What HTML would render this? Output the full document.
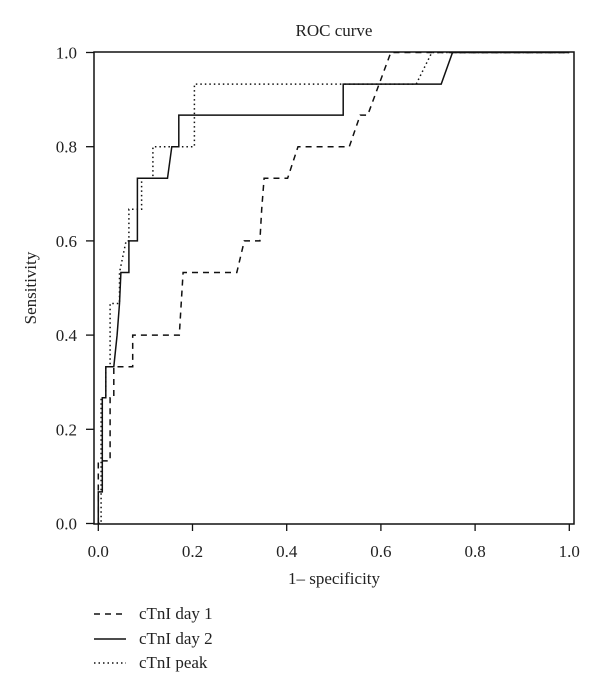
<!DOCTYPE html>
<html>
<head>
<meta charset="utf-8">
<style>
  html,body{margin:0;padding:0;background:#fff;}
  svg{display:block;}
  text{font-family:"Liberation Serif",serif;fill:#222;}
</style>
</head>
<body>
<svg id="chart" width="600" height="696" viewBox="0 0 600 696" xmlns="http://www.w3.org/2000/svg">
  <text x="334" y="36" font-size="17" text-anchor="middle">ROC curve</text>
  <rect x="94" y="52" width="480" height="472" fill="none" stroke="#111" stroke-width="1.5"/>
  <g id="xticks"></g>
  <g id="yticks"></g>
  <text x="334" y="584" font-size="17" text-anchor="middle">1– specificity</text>
  <text transform="translate(36,288) rotate(-90)" font-size="17" text-anchor="middle">Sensitivity</text>
  <g id="series"></g>
  <g id="legend"></g>
</svg>
<script>
const xTicks = [0.0, 0.2, 0.4, 0.6, 0.8, 1.0];
const yTicks = [0.0, 0.2, 0.4, 0.6, 0.8, 1.0];
const seriesNames = ["cTnI day 1", "cTnI day 2", "cTnI peak"];
const day1X = [0.0,0.0,0.025,0.025,0.033,0.033,0.073,0.073,0.172,0.176,0.18,0.294,0.31,0.343,0.347,0.352,0.402,0.424,0.533,0.556,0.572,0.621,1.0];
const day1Y = [0.0,0.133,0.133,0.267,0.267,0.333,0.333,0.4,0.4,0.467,0.533,0.533,0.6,0.6,0.667,0.733,0.733,0.8,0.8,0.867,0.867,1.0,1.0];
const day2X = [0.0,0.0,0.0085,0.0085,0.016,0.016,0.033,0.04,0.045,0.048,0.065,0.065,0.083,0.083,0.147,0.156,0.171,0.171,0.52,0.52,0.728,0.752,1.0];
const day2Y = [0.0,0.067,0.067,0.267,0.267,0.333,0.333,0.4,0.467,0.533,0.533,0.6,0.6,0.733,0.733,0.8,0.8,0.867,0.867,0.933,0.933,1.0,1.0];
const peakX = [0.0,0.006,0.006,0.016,0.016,0.025,0.025,0.045,0.045,0.059,0.065,0.065,0.092,0.092,0.116,0.116,0.204,0.204,0.675,0.708,1.0];
const peakY = [0.0,0.0,0.267,0.267,0.333,0.333,0.467,0.467,0.533,0.6,0.6,0.667,0.667,0.733,0.733,0.8,0.8,0.933,0.933,1.0,1.0];

const NS = "http://www.w3.org/2000/svg";
function sx(v){ return 98.3 + 471 * v; }
function sy(v){ return 523.5 - 471 * v; }
function mk(tag, attrs, parent){
  const e = document.createElementNS(NS, tag);
  for (const k in attrs) e.setAttribute(k, attrs[k]);
  parent.appendChild(e);
  return e;
}
const xg = document.getElementById("xticks");
xTicks.forEach(function(t){
  const l = mk("line", {x1:sx(t), x2:sx(t), y1:524, y2:531, stroke:"#111", "stroke-width":1.3}, xg);
  
  
  const tx = mk("text", {x:sx(t), y:557, "font-size":17, "text-anchor":"middle"}, xg);
  tx.textContent = t.toFixed(1);
  
  
});
const yg = document.getElementById("yticks");
yTicks.forEach(function(t){
  const l = mk("line", {x1:86, x2:94, y1:sy(t), y2:sy(t), stroke:"#111", "stroke-width":1.3}, yg);
  
  
  const tx = mk("text", {x:77, y:sy(t)+6, "font-size":17, "text-anchor":"end"}, yg);
  tx.textContent = t.toFixed(1);
  
  
});
const dashes = ["6,5", "none", "1.5,3"];
const allX = [day1X, day2X, peakX];
const allY = [day1Y, day2Y, peakY];
const sg = document.getElementById("series");
for (let i = 0; i < 3; i++){
  const pts = allX[i].map(function(x, j){ return sx(x).toFixed(1) + "," + sy(allY[i][j]).toFixed(1); }).join(" ");
  const p = mk("polyline", {points:pts, fill:"none", stroke:"#111", "stroke-width":1.5, "stroke-dasharray":dashes[i]}, sg);
  
  
}
const lg = document.getElementById("legend");
const rowY = [614, 639, 663];
for (let i = 0; i < 3; i++){
  const l = mk("line", {x1:94, x2:126, y1:rowY[i], y2:rowY[i], stroke:"#111", "stroke-width":1.5, "stroke-dasharray":dashes[i]}, lg);
  
  
  const t = mk("text", {x:139, y:rowY[i]+5, "font-size":17}, lg);
  t.textContent = seriesNames[i];
  
  
}
</script>
</body>
</html>
